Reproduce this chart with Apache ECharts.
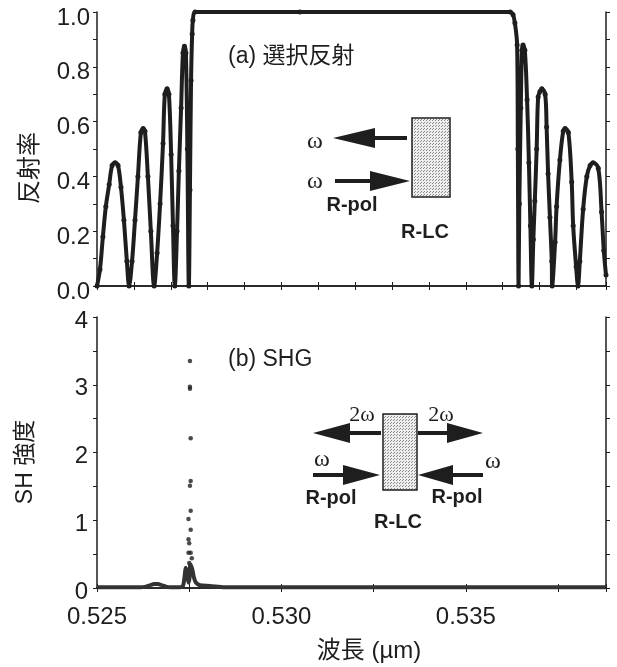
<!DOCTYPE html>
<html>
<head>
<meta charset="utf-8">
<script src="https://cdn.jsdelivr.net/npm/echarts@6/dist/echarts.min.js"></script>
<style>
  html, body { margin: 0; padding: 0; background: #fff; }
  #chart { width: 617px; height: 667px; }
</style>
</head>
<body>
<div id="chart"></div>
<script>
// (a) reflectance
const reflLambda = [
  0.52500, 0.52508, 0.52516, 0.52524, 0.52533, 0.52541, 0.52549, 0.52557, 0.52565, 0.52573, 0.52581, 0.52587,
  0.52595, 0.52603, 0.52611, 0.52619, 0.52625, 0.52630, 0.52638, 0.52646, 0.52655,
  0.52663, 0.52671, 0.52679, 0.52684, 0.52690, 0.52695, 0.52701, 0.52706, 0.52711,
  0.52717, 0.52722, 0.52728, 0.52733, 0.52737, 0.52741, 0.52745, 0.52749,
  0.52752, 0.52755, 0.52758, 0.52760, 0.52766, 0.53050, 0.53620,
  0.53628, 0.53633, 0.53639, 0.53641, 0.53643,
  0.53645, 0.53649, 0.53652, 0.53655, 0.53660, 0.53666, 0.53671, 0.53675, 0.53679,
  0.53683, 0.53687, 0.53692, 0.53696, 0.53701, 0.53706, 0.53715, 0.53719, 0.53723, 0.53728, 0.53733, 0.53734,
  0.53742, 0.53746, 0.53755, 0.53764, 0.53769, 0.53778, 0.53787, 0.53791, 0.53799, 0.53804,
  0.53809, 0.53818, 0.53828, 0.53837, 0.53845, 0.53859, 0.53868, 0.53874, 0.53880
]
const reflValue = [
  0.00, 0.06, 0.18, 0.29, 0.37, 0.44, 0.45, 0.44, 0.36, 0.24, 0.09, 0.00,
  0.09, 0.24, 0.40, 0.56, 0.575, 0.565, 0.40, 0.20, 0.00,
  0.12, 0.30, 0.52, 0.70, 0.72, 0.70, 0.48, 0.22, 0.00,
  0.20, 0.42, 0.65, 0.85, 0.875, 0.85, 0.50, 0.00,
  0.35, 0.75, 0.92, 0.97, 1.00, 1.00, 1.00,
  0.99, 0.96, 0.88, 0.50, 0.00,
  0.30, 0.65, 0.86, 0.88, 0.86, 0.68, 0.45, 0.22, 0.00,
  0.17, 0.31, 0.50, 0.69, 0.71, 0.72, 0.70, 0.58, 0.41, 0.25, 0.09, 0.00,
  0.16, 0.29, 0.46, 0.565, 0.575, 0.56, 0.38, 0.22, 0.07, 0.00,
  0.09, 0.28, 0.40, 0.44, 0.45, 0.43, 0.27, 0.13, 0.04
]

// (b) SHG baseline and the sharp peak near the band edge
const shgLambda = [
  0.52500, 0.52562, 0.52617, 0.52633, 0.52644, 0.52655, 0.52665, 0.52676, 0.52687, 0.52698, 0.52725,
  0.52733, 0.52737, 0.52741, 0.52745, 0.52748, 0.52751, 0.52753, 0.52758, 0.52763, 0.52768,
  0.52779, 0.52806, 0.52847, 0.53880
]
const shgValue = [
  0.01, 0.01, 0.01, 0.02, 0.04, 0.06, 0.06, 0.04, 0.02, 0.01, 0.01,
  0.03, 0.15, 0.30, 0.20, 0.08, 0.15, 0.35, 0.28, 0.15, 0.08,
  0.04, 0.03, 0.01, 0.01
]
const peakLambda = [
  0.52752, 0.52752, 0.52752, 0.52754, 0.52754, 0.52752, 0.52754, 0.52748,
  0.52754, 0.52748, 0.52750, 0.52748, 0.52754, 0.52757, 0.52750, 0.52754
]
const peakValue = [
  3.35, 2.97, 2.94, 2.21, 1.58, 1.51, 1.14, 1.02,
  0.86, 0.72, 0.66, 0.52, 0.52, 0.44, 0.37, 0.31
]

const xTickLabels = ['0.525', '0.530', '0.535']

const ink  = '#1e1e1e'
const font = 'Liberation Sans, Arial, sans-serif'
const cjk  = 'Liberation Sans, "Noto Sans CJK JP", sans-serif'
const serif = 'Liberation Serif, serif'

const pairs = (xs, ys) => xs.map((x, i) => [x, ys[i]])

// stipple fill of the LC cell
const dots = document.createElement('canvas')
dots.width = 3; dots.height = 3
const g = dots.getContext('2d')
g.fillStyle = '#eeeeee'; g.fillRect(0, 0, 3, 3)
g.fillStyle = '#8a8a8a'; g.fillRect(0, 0, 1, 1); g.fillRect(1, 2, 1, 1)

function arrow(tail, tip, y, headLen) {
  const d = tip > tail ? 1 : -1
  const xb = tip - d * headLen
  return {
    type: 'polygon',
    shape: { points: [[tail, y - 2], [xb, y - 2], [xb, y - 10], [tip, y], [xb, y + 10], [xb, y + 2], [tail, y + 2]] },
    style: { fill: ink }
  }
}
const txt = (x, y, text, f, extra, rot) => ({
  type: 'text', x, y, rotation: rot || 0,
  style: Object.assign({ text, font: f, fill: ink, textAlign: 'center', textVerticalAlign: 'middle' }, extra || {})
})
const cell = (x, y, w, h) => ({
  type: 'rect', shape: { x, y, width: w, height: h },
  style: { fill: { image: dots, repeat: 'repeat' }, stroke: ink, lineWidth: 1.5 }
})

const axisBase = {
  type: 'value', min: 0.525, max: 0.5388,
  axisLine: { lineStyle: { color: ink, width: 1.5 } },
  axisTick: { show: true, inside: false, length: 4, lineStyle: { color: ink, width: 1 } },
  splitLine: { show: false },
  axisLabel: { show: false }
}
const yBase = {
  type: 'value',
  axisLine: { show: true, lineStyle: { color: ink, width: 1.5 } },
  axisTick: { show: true, inside: false, length: 4, lineStyle: { color: ink, width: 1 } },
  splitLine: { show: false },
  axisLabel: { show: false }
}

const chart = echarts.init(document.getElementById('chart'))
chart.setOption({
  animation: false,
  backgroundColor: '#fff',
  grid: [
    { left: 97, right: 11, top: 12, height: 274 },
    { left: 97, right: 11, top: 317, height: 271 }
  ],
  xAxis: [
    Object.assign({}, axisBase, { gridIndex: 0, position: 'bottom', interval: 0.001 }),
    Object.assign({}, axisBase, { gridIndex: 0, position: 'top', interval: 0.001 }),
    Object.assign({}, axisBase, {
      gridIndex: 1, position: 'bottom', interval: 0.0025,
      axisLabel: {
        show: true, margin: 17, color: ink, fontFamily: font, fontSize: 24,
        formatter: v => xTickLabels.includes(v.toFixed(3)) ? v.toFixed(3) : ''
      }
    }),
    Object.assign({}, axisBase, { gridIndex: 1, position: 'top', interval: 0.0025 })
  ],
  yAxis: [
    Object.assign({}, yBase, {
      gridIndex: 0, position: 'left', min: 0, max: 1, interval: 0.1,
      axisLabel: {
        show: true, margin: 7, color: ink, fontFamily: font, fontSize: 24,
        verticalAlign: 'top', lineHeight: 12,
        formatter: v => Math.round(v * 10) % 2 === 0 ? v.toFixed(1) : ''
      }
    }),
    Object.assign({}, yBase, { gridIndex: 0, position: 'right', min: 0, max: 1, interval: 0.1 }),
    Object.assign({}, yBase, {
      gridIndex: 1, position: 'left', min: 0, max: 4, interval: 0.5,
      axisLabel: {
        show: true, margin: 9, color: ink, fontFamily: font, fontSize: 24,
        verticalAlign: 'top', lineHeight: 8,
        formatter: v => Math.abs(v - Math.round(v)) < 1e-6 ? String(Math.round(v)) : ''
      }
    }),
    Object.assign({}, yBase, { gridIndex: 1, position: 'right', min: 0, max: 4, interval: 0.5 })
  ],
  series: [
    {
      name: '反射率', type: 'line', xAxisIndex: 0, yAxisIndex: 0,
      data: pairs(reflLambda, reflValue),
      smooth: 0.35, showSymbol: true, symbol: 'circle', symbolSize: 5,
      itemStyle: { color: ink },
      lineStyle: { color: ink, width: 4 }
    },
    {
      name: 'SH', type: 'line', xAxisIndex: 2, yAxisIndex: 2,
      data: pairs(shgLambda, shgValue),
      smooth: 0.3, showSymbol: false,
      lineStyle: { color: '#333', width: 4 }
    },
    {
      name: 'SH peak', type: 'scatter', xAxisIndex: 2, yAxisIndex: 2,
      data: pairs(peakLambda, peakValue),
      symbolSize: 4.5, itemStyle: { color: ink }
    }
  ],
  graphic: [
    txt(30, 168, '反射率', '24px ' + cjk, null, Math.PI / 2),
    txt(26, 462, 'SH 強度', '23px ' + cjk, null, Math.PI / 2),
    txt(369, 651, '波長 (µm)', '24px ' + cjk),
    txt(228, 57, '(a) 選択反射', '23px ' + cjk, { textAlign: 'left' }),
    txt(228, 360, '(b) SHG', '23px ' + cjk, { textAlign: 'left' }),

    // (a) inset
    cell(412, 118, 38, 79),
    arrow(407, 333, 138, 42),
    arrow(335, 410, 181, 40),
    txt(315, 142, 'ω', '24px ' + serif),
    txt(315, 182, 'ω', '24px ' + serif),
    txt(352, 205, 'R-pol', 'bold 20px ' + font),
    txt(425, 232, 'R-LC', 'bold 20px ' + font),

    // (b) inset
    cell(383, 414, 34, 76),
    arrow(381, 313, 433, 37),
    arrow(418, 483, 433, 36),
    arrow(313, 380, 475, 37),
    arrow(483, 418, 475, 35),
    txt(362, 415, '2ω', '22px ' + serif),
    txt(441, 415, '2ω', '22px ' + serif),
    txt(322, 460, 'ω', '24px ' + serif),
    txt(493, 462, 'ω', '24px ' + serif),
    txt(331, 498, 'R-pol', 'bold 20px ' + font),
    txt(457, 497, 'R-pol', 'bold 20px ' + font),
    txt(398, 522, 'R-LC', 'bold 20px ' + font)
  ]
})
</script>
</body>
</html>
